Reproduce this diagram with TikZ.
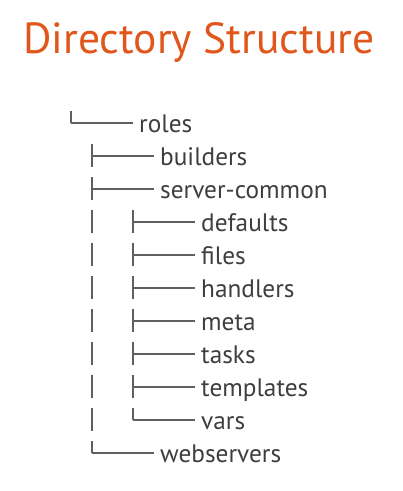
\documentclass[tikz,border=0pt]{standalone}
\usepackage{fontspec}
\setmainfont{PT Sans}
\definecolor{titleorange}{HTML}{E0561B}
\definecolor{dirgray}{HTML}{3E3E40}
\definecolor{linegray}{HTML}{606062}
\begin{document}
\begin{tikzpicture}[x=1pt,y=-1pt]
 \tikzstyle{title} = [anchor=base,inner sep=0,text=titleorange,font=\fontsize{43.5}{43.5}\selectfont]
 \tikzstyle{dirname} = [anchor=base west,inner sep=0,text=dirgray,font=\fontsize{25.3}{25.3}\selectfont]
 \tikzstyle{branch} = [draw=linegray,line width=1.1pt]
 % #1 = x of the branch, #2 = y of the branch, #3 = name, #4 = label
 \newcommand{\dirrow}[4]{\node[dirname] (#3) at (#1+68,#2+9) {#4};
  \coordinate (#3-up) at (#1,#2-12); \coordinate (#3-down) at (#1,#2+11); \coordinate (#3-fork) at (#1,#2);
  \draw[branch,shorten >=6pt] (#3-fork) -- (#3-fork -| #3.west);}
 \newcommand{\teerow}[4]{\dirrow{#1}{#2}{#3}{#4} \draw[branch] (#3-up) -- (#3-down);}
 \newcommand{\ellrow}[4]{\dirrow{#1}{#2}{#3}{#4} \draw[branch] (#3-up) -- (#3-fork);}
 \useasboundingbox (0,0) rectangle (403,491);

 \node[title] (title) at (199,53) {Directory Structure};

 \ellrow{71}{123}{roles}{roles}
 \teerow{92}{156}{builders}{builders}
 \teerow{92}{189}{common}{server-common}
 \teerow{133}{222}{defaults}{defaults}
 \teerow{133}{255}{files}{files}
 \teerow{133}{288}{handlers}{handlers}
 \teerow{133}{321}{meta}{meta}
 \teerow{133}{354}{tasks}{tasks}
 \teerow{133}{387}{templates}{templates}
 \ellrow{133}{420}{vars}{vars}
 \ellrow{92}{453}{webservers}{webservers}

 % the line of server-common down to webservers
 \foreach \r in {defaults,files,handlers,meta,tasks,templates,vars}
  \draw[branch] (\r-up -| common-fork) -- (\r-down -| common-fork);
\end{tikzpicture}
\end{document}
